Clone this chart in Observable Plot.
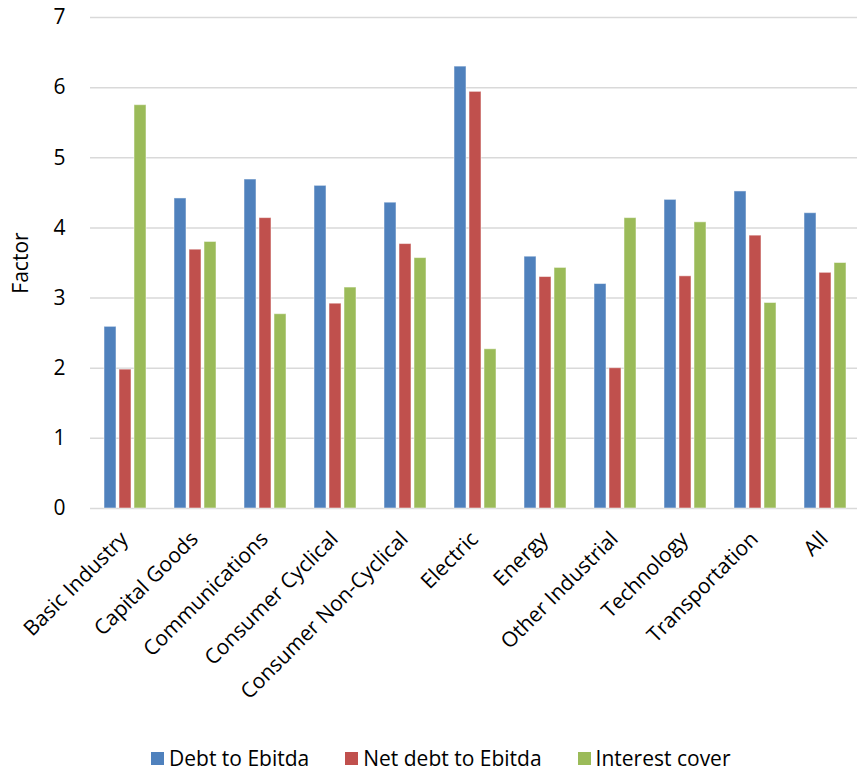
<!DOCTYPE html>
<html>
<head>
<meta charset="utf-8">
<script src="https://cdn.jsdelivr.net/npm/d3@7"></script>
<script src="https://cdn.jsdelivr.net/npm/@observablehq/plot@0.6"></script>
<style>
  html, body { margin: 0; padding: 0; background: #fff; overflow: hidden; }
  #chart svg { max-width: none; display: block; }
  #legend {
    display: flex; align-items: center;
    height: 24px; margin-top: 11px; padding-left: 151px;
    font-family: "Open Sans", sans-serif; font-size: 21px; color: #000;
  }
  #legend .item { display: flex; align-items: center; margin-right: 36px; }
  #legend .swatch { width: 13px; height: 13px; margin-right: 5px; }
</style>
</head>
<body>
<div id="chart"></div>
<div id="legend"></div>
<script>
// Leverage and coverage ratios by sector
const categories = [
  "Basic Industry", "Capital Goods", "Communications", "Consumer Cyclical",
  "Consumer Non-Cyclical", "Electric", "Energy", "Other Industrial",
  "Technology", "Transportation", "All"
];
const series = ["Debt to Ebitda", "Net debt to Ebitda", "Interest cover"];
const debtToEbitda    = [2.59, 4.42, 4.69, 4.60, 4.36, 6.30, 3.59, 3.20, 4.40, 4.52, 4.21];
const netDebtToEbitda = [1.98, 3.69, 4.14, 2.92, 3.77, 5.94, 3.30, 2.00, 3.31, 3.89, 3.36];
const interestCover   = [5.75, 3.80, 2.77, 3.15, 3.57, 2.27, 3.43, 4.14, 4.08, 2.93, 3.50];
const colors = ["#4F81BD", "#C0504D", "#9BBB59"];
const yTicks = [0, 1, 2, 3, 4, 5, 6, 7];

// Long-format rows for the grouped bars
const valuesBySeries = [debtToEbitda, netDebtToEbitda, interestCover];
const rows = [];
categories.forEach((c, i) => {
  series.forEach((s, j) => rows.push({category: c, series: s, value: valuesBySeries[j][i]}));
});

const chart = Plot.plot({
  width: 861,
  height: 735,
  marginLeft: 88,
  marginRight: 0,
  marginTop: 17,
  marginBottom: 227,
  style: {fontFamily: "'Open Sans', sans-serif", fontSize: "21px", color: "#000", background: "#fff"},
  fx: {domain: categories, padding: 0},
  x: {domain: series, paddingInner: 0.214, paddingOuter: 0.853, axis: null},
  y: {domain: [0, 7]},
  color: {domain: series, range: colors},
  marks: [
    Plot.gridY(yTicks, {stroke: "#d9d9d9", strokeOpacity: 1, strokeWidth: 1.5}),
    Plot.barY(rows, {
      fx: "category", x: "series", y: "value", fill: "series",
      stroke: "#fff", strokeOpacity: 0.5, strokeWidth: 1
    }),
    Plot.axisY({
      ticks: yTicks, tickFormat: "d", tickSize: 0, tickPadding: 25,
      label: "Factor", labelAnchor: "center", labelArrow: "none", labelOffset: 77
    }),
    Plot.axisFx({
      anchor: "bottom", tickRotate: -45, tickSize: 0, tickPadding: 27, dx: -1, label: null
    })
  ]
});
document.getElementById("chart").appendChild(chart);

// Legend below the chart
const items = d3.select("#legend").selectAll("div.item")
  .data(series)
  .join("div")
  .attr("class", "item");
items.append("div").attr("class", "swatch").style("background", (d, i) => colors[i]);
items.append("span").text(d => d);
</script>
</body>
</html>
